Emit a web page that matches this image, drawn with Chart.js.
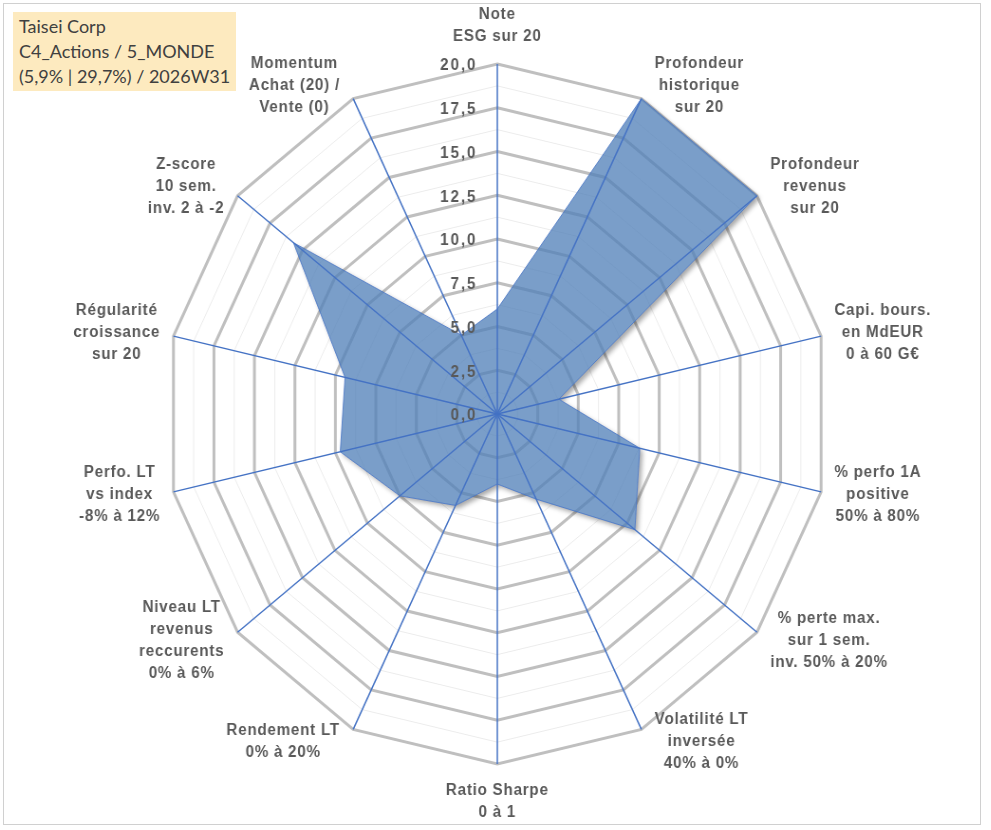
<!DOCTYPE html>
<html>
<head>
<meta charset="utf-8">
<script src="https://cdn.jsdelivr.net/npm/chart.js@4.4.1/dist/chart.umd.min.js"></script>
<style>
    body { margin: 0; background: #fff; overflow: hidden; }
    #wrap { position: relative; width: 991px; height: 830px; overflow: hidden; }
    #stretch { position: absolute; left: 0; top: 0; width: 1044px; height: 830px; transform: scaleX(0.949); transform-origin: 0 0; }
    #frame { position: absolute; left: 3px; top: 3px; width: 978px; height: 822px; border: 1px solid #d0d0d0; box-sizing: border-box; pointer-events: none; }
    #cartouche {
        position: absolute; left: 13px; top: 12px; width: 223px; height: 79px;
        background: #fdeabf; color: #404040;
        font-family: Lato, "Open Sans", sans-serif; font-size: 18px; line-height: 25px;
        padding: 2px 0 0 6px; box-sizing: border-box;
    }
</style>
</head>
<body>
<div id="wrap">
    <div id="stretch"><canvas id="myChart" width="1044" height="830"></canvas></div>
    <div id="frame"></div>
    <div id="cartouche">Taisei Corp<br>C4_Actions / 5_MONDE<br>(5,9% | 29,7%) / 2026W31</div>
</div>
<script>
// axes du radar
var categories = [
    ['Note', 'ESG sur 20'],
    ['Profondeur', 'historique', 'sur 20'],
    ['Profondeur', 'revenus', 'sur 20'],
    ['Capi. bours.', 'en MdEUR', '0 à 60 G€'],
    ['% perfo 1A', 'positive', '50% à 80%'],
    ['% perte max.', 'sur 1 sem.', 'inv. 50% à 20%'],
    ['Volatilité LT', 'inversée', '40% à 0%'],
    ['Ratio Sharpe', '0 à 1'],
    ['Rendement LT', '0% à 20%'],
    ['Niveau LT', 'revenus', 'reccurents', '0% à 6%'],
    ['Perfo. LT', 'vs index', '-8% à 12%'],
    ['Régularité', 'croissance', 'sur 20'],
    ['Z-score', '10 sem.', 'inv. 2 à -2'],
    ['Momentum', 'Achat (20) /', 'Vente (0)']
];
// notes sur 20
var scores = [6.0, 20, 20, 3.8, 8.8, 10.6, 5.4, 4.0, 5.8, 7.5, 9.7, 9.4, 15.7, 5.0];
// graduations
var tickValues = [0, 2.5, 5, 7.5, 10, 12.5, 15, 17.5, 20];
var tickLabels = ['0,0', '2,5', '5,0', '7,5', '10,0', '12,5', '15,0', '17,5', '20,0'];

var FONT = '"Liberation Sans", Arial, sans-serif';
var LINE_H = 22;

// ombre portée, seulement à l'extérieur de la zone
var shadowPlugin = {
    id: 'shadow',
    beforeDatasetsDraw: function (chart) {
        var pts = chart.getDatasetMeta(0).data;
        var ctx = chart.ctx;
        var dpr = chart.currentDevicePixelRatio || 1;
        function poly() {
            ctx.moveTo(pts[0].x, pts[0].y);
            for (var i = 1; i < pts.length; i++) ctx.lineTo(pts[i].x, pts[i].y);
            ctx.closePath();
        }
        ctx.save();
        ctx.beginPath();
        ctx.rect(0, 0, chart.width, chart.height);
        poly();
        ctx.clip('evenodd');
        ctx.translate(-5000, 0);
        ctx.shadowColor = 'rgba(0,0,0,0.35)';
        ctx.shadowBlur = 5 * dpr;
        ctx.shadowOffsetX = (5000 + 3) * dpr;
        ctx.shadowOffsetY = 3 * dpr;
        ctx.beginPath();
        poly();
        ctx.fillStyle = '#000';
        ctx.fill();
        ctx.restore();
    }
};

// rayons bleus au-dessus de la zone, graduations et libellés
var labelsPlugin = {
    id: 'labels',
    afterDatasetsDraw: function (chart) {
        var r = chart.scales.r;
        var ctx = chart.ctx;
        ctx.save();
        ctx.strokeStyle = '#4472c4';
        ctx.lineWidth = 1.5;
        categories.forEach(function (c, i) {
            var p = r.getPointPosition(i, r.drawingArea);
            ctx.beginPath();
            ctx.moveTo(r.xCenter, r.yCenter);
            ctx.lineTo(p.x, p.y);
            ctx.stroke();
        });
        ctx.restore();
    },
    afterDraw: function (chart) {
        var r = chart.scales.r;
        var ctx = chart.ctx;
        ctx.save();
        ctx.fillStyle = '#595959';
        ctx.font = 'bold 16px ' + FONT;
        ctx.letterSpacing = '2px';
        ctx.textAlign = 'right';
        ctx.textBaseline = 'middle';
        tickValues.forEach(function (v, i) {
            var d = r.getDistanceFromCenterForValue(v);
            ctx.fillText(tickLabels[i], r.xCenter - 21, r.yCenter - d + 2);
        });

        ctx.font = 'bold 16px ' + FONT;
        ctx.letterSpacing = '0.8px';
        ctx.textAlign = 'center';
        ctx.textBaseline = 'middle';
        var n = categories.length;
        categories.forEach(function (lines, i) {
            var p = r.getPointPosition(i, r.drawingArea);
            var th = i * 2 * Math.PI / n;
            var s = Math.sin(th), c = Math.cos(th);
            var w = 0;
            lines.forEach(function (t) { w = Math.max(w, ctx.measureText(t).width); });
            var h = lines.length * LINE_H;
            var cx, cy;
            if (Math.abs(s) < 0.01) {
                cx = p.x;
                cy = p.y - (c > 0 ? 1 : -1) * (h / 2 + 16);
            } else {
                cx = p.x + (s > 0 ? 1 : -1) * (w / 2 + 14);
                cy = p.y - 14 * c;
            }
            lines.forEach(function (t, j) {
                ctx.fillText(t, cx, cy - h / 2 + LINE_H / 2 + j * LINE_H);
            });
        });
        ctx.restore();
    }
};

var ctx = document.getElementById('myChart').getContext('2d');
var myChart = new Chart(ctx, {
    type: 'radar',
    data: {
        labels: categories,
        datasets: [{
            data: scores,
            backgroundColor: 'rgba(80,128,184,0.76)',
            borderColor: 'rgba(68,114,196,0.8)',
            borderWidth: 1,
            pointRadius: 0,
            fill: true
        }]
    },
    options: {
        responsive: false,
        animation: false,
        layout: { padding: { top: 64, bottom: 66, left: 174, right: 170 } },
        plugins: { legend: { display: false }, tooltip: { enabled: false } },
        scales: {
            r: {
                min: 0,
                max: 20,
                ticks: { display: false, stepSize: 1.25 },
                grid: {
                    circular: false,
                    color: function (c) { return c.tick && c.tick.value % 2.5 === 0 ? '#bfbfbf' : '#ececec'; },
                    lineWidth: function (c) { return c.tick && c.tick.value % 2.5 === 0 ? 3 : 1; }
                },
                angleLines: { display: false },
                pointLabels: { display: false }
            }
        }
    },
    plugins: [shadowPlugin, labelsPlugin]
});
</script>
</body>
</html>
